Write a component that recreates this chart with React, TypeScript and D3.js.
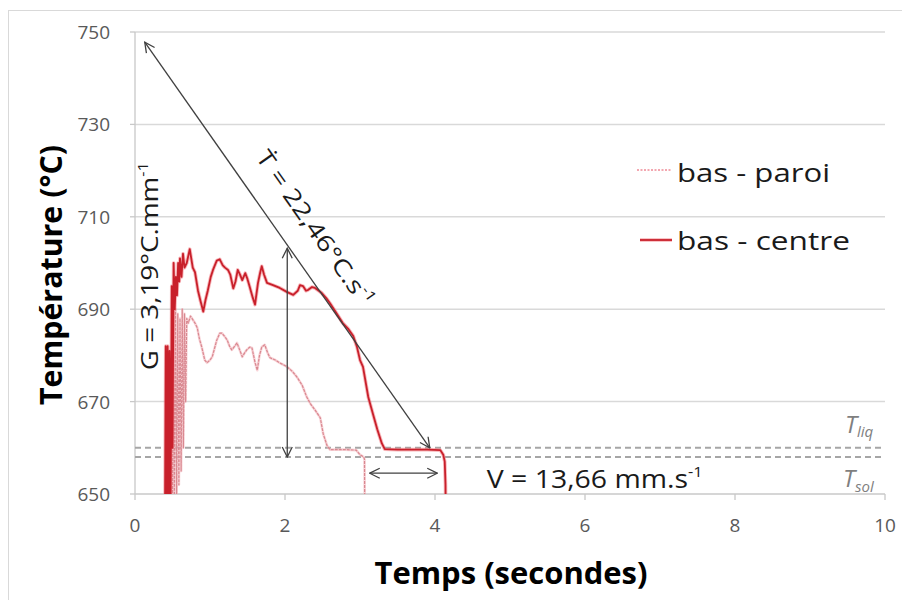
import React from 'react';
import * as d3 from 'd3';

// ---------- data ----------
const xTicks = [0, 2, 4, 6, 8, 10];
const yTicks = [650, 670, 690, 710, 730, 750];

const seriesNames = ['bas - paroi', 'bas - centre'];

const centreTime = [
  0.40, 0.41, 0.425, 0.435, 0.45, 0.46, 0.475, 0.49, 0.50, 0.515, 0.53, 0.545, 0.56, 0.575, 0.59, 0.60,
  0.62, 0.64, 0.66, 0.69, 0.73, 0.77, 0.80, 0.84, 0.87, 0.91, 0.94, 0.97, 1.01, 1.04, 1.09, 1.13,
  1.17, 1.20, 1.24, 1.27, 1.31, 1.34, 1.37, 1.40, 1.43, 1.47, 1.50, 1.53, 1.57, 1.60, 1.64, 1.67,
  1.69, 1.72, 1.76, 1.84, 1.93, 2.03, 2.11, 2.17, 2.20, 2.24, 2.28, 2.31, 2.36, 2.40, 2.45, 2.49,
  2.55, 2.60, 2.68, 2.77, 2.84, 2.91, 2.96, 3.00, 3.04, 3.11, 3.17, 3.23, 3.29, 3.33, 3.5, 3.7,
  3.9, 4.07, 4.11, 4.13, 4.14, 4.145,
];
const centreTemp = [
  645, 682, 645, 682, 645, 681, 648, 695, 660, 700, 690, 697, 693, 700, 696, 701,
  697, 702, 699, 700, 703, 699, 698, 694, 692, 689.5, 692, 694, 697, 698.5, 700.5, 700.8,
  699.5, 699, 698.5, 697.5, 694.5, 696, 698.5, 697.5, 696.3, 697.8, 696.5, 694.8, 692.5, 691, 695.7, 698,
  699.3, 697.5, 695.7, 695.2, 694.6, 693.7, 693.1, 694.0, 695.2, 695.0, 694.0, 694.2, 694.8, 694.6, 694, 693.5,
  692.4, 691.3, 689.3, 687.0, 685.8, 684.2, 681.8, 679, 677.5, 671, 667.5, 664, 661, 659.7, 659.6, 659.6,
  659.6, 659.5, 658.5, 657, 652, 640,
];

const paroiTime = [
  0.50, 0.51, 0.525, 0.54, 0.555, 0.57, 0.585, 0.60, 0.615, 0.63, 0.645, 0.66, 0.675, 0.69, 0.71, 0.74,
  0.76, 0.80, 0.83, 0.86, 0.89, 0.93, 0.96, 1.00, 1.03, 1.06, 1.09, 1.13, 1.16, 1.20, 1.23, 1.26,
  1.29, 1.33, 1.36, 1.40, 1.43, 1.46, 1.49, 1.53, 1.56, 1.60, 1.63, 1.66, 1.69, 1.73, 1.77, 1.80,
  1.87, 1.93, 2.03, 2.10, 2.16, 2.23, 2.29, 2.34, 2.40, 2.47, 2.51, 2.56, 2.60, 2.8, 2.95, 3.00,
  3.05, 3.06, 3.065,
];
const paroiTemp = [
  645, 688, 648, 690, 650, 689, 652, 688, 655, 690, 660, 689, 670, 688, 687, 688.5,
  688, 687, 686, 683.5, 681.8, 679, 678.4, 679, 679.7, 681.5, 683.3, 684.8, 684.8, 684, 683.3, 682,
  681.2, 682, 682.7, 681, 679.7, 680.5, 681.2, 681.8, 681.6, 678.5, 676.8, 680, 681.8, 682.3, 680.5, 679.5,
  679, 678.4, 677.5, 676.5, 675.3, 673.5, 671.0, 669.5, 668.2, 666.5, 663, 660.5, 659.6, 659.6, 659.5, 658.5,
  658, 657.5, 640,
];

const tLiq = 660;
const tSol = 658;

// annotations in data units
const rateArrow: [number, number][] = [[0.13, 747.8], [3.93, 660]];
const gradArrow: [number, number][] = [[2.03, 703.2], [2.03, 658]];
const speedArrow: [number, number][] = [[3.13, 654.5], [4.03, 654.5]];
const rateLabelPos: [number, number] = [1.6, 722.9];
const gradLabelPos: [number, number] = [0.307, 676.8];
const speedLabelPos: [number, number] = [4.69, 651.3];

const rateLabel = 'Ṫ = 22,46°C.s';
const gradLabel = 'G = 3,19°C.mm';
const speedLabel = 'V = 13,66 mm.s';
const supLabel = '-1';

const W = 902;
const H = 600;
const FONT = "'Open Sans', 'Noto Sans', sans-serif";

export default function App() {
  const x = d3.scaleLinear().domain([0, 10]).range([135, 885]);
  const y = d3.scaleLinear().domain([650, 750]).range([494, 32]);
  const line = d3
    .line<[number, number]>()
    .x((d) => x(d[0]))
    .y((d) => y(d[1]));

  const centre: [number, number][] = centreTime.map((t, i) => [t, centreTemp[i]]);
  const paroi: [number, number][] = paroiTime.map((t, i) => [t, paroiTemp[i]]);

  const [x0, x1] = x.range();
  const [yb, yt] = y.range();

  const rateAngle =
    (Math.atan2(y(rateArrow[1][1]) - y(rateArrow[0][1]), x(rateArrow[1][0]) - x(rateArrow[0][0])) * 180) /
    Math.PI;

  const arrow = (pts: [number, number][]) => (
    <path
      d={line(pts) || ''}
      fill="none"
      stroke="#404040"
      strokeWidth={1.3}
      markerStart="url(#ah)"
      markerEnd="url(#ah)"
    />
  );

  return (
    <svg
      width={W}
      height={H}
      style={{ position: 'absolute', left: 0, top: 0, display: 'block' }}
      fontFamily={FONT}
    >
      <defs>
        <clipPath id="plotClip">
          <rect x={x0} y={yt} width={x1 - x0} height={yb - yt} />
        </clipPath>
        <marker
          id="ah"
          viewBox="0 0 12 12"
          refX={11}
          refY={6}
          markerWidth={12}
          markerHeight={12}
          markerUnits="userSpaceOnUse"
          orient="auto-start-reverse"
        >
          <path d="M1,1 L11,6 L1,11" fill="none" stroke="#404040" strokeWidth={1.3} />
        </marker>
      </defs>
      <rect x={0} y={0} width={W} height={H} fill="#fff" />
      <rect x={8.5} y={10.5} width={W + 20} height={H + 20} fill="none" stroke="#d9d9d9" strokeWidth={1} />

      {/* gridlines */}
      {yTicks
        .filter((v) => v !== 650)
        .map((v) => (
          <line key={'g' + v} x1={x0} x2={x1} y1={y(v)} y2={y(v)} stroke="#d9d9d9" strokeWidth={1.5} />
        ))}
      {/* axes */}
      <line x1={x0} x2={x0} y1={yt} y2={yb} stroke="#c8c8c8" strokeWidth={1.3} />
      <line x1={x0} x2={x1} y1={yb} y2={yb} stroke="#c8c8c8" strokeWidth={1.5} />
      {yTicks.map((v) => (
        <line key={'yt' + v} x1={x0 - 5} x2={x0} y1={y(v)} y2={y(v)} stroke="#c8c8c8" strokeWidth={1.3} />
      ))}
      {xTicks.map((v) => (
        <line key={'xt' + v} x1={x(v)} x2={x(v)} y1={yb} y2={yb + 6} stroke="#c8c8c8" strokeWidth={1.3} />
      ))}
      {yTicks.map((v) => (
        <text key={'yl' + v} x={110} y={y(v) + 7} textAnchor="end" fontSize={19} fill="#595959">
          {v}
        </text>
      ))}
      {xTicks.map((v) => (
        <text key={'xl' + v} x={x(v)} y={532} textAnchor="middle" fontSize={19} fill="#595959">
          {v}
        </text>
      ))}

      {/* axis titles */}
      <text
        transform={`translate(62,275) rotate(-90)`}
        textAnchor="middle"
        fontSize={30}
        fontWeight="bold"
        fill="#000"
        textLength={260}
        lengthAdjust="spacingAndGlyphs"
      >
        Température (°C)
      </text>
      <text
        x={511}
        y={584}
        textAnchor="middle"
        fontSize={30}
        fontWeight="bold"
        fill="#000"
        textLength={273}
        lengthAdjust="spacingAndGlyphs"
      >
        Temps (secondes)
      </text>

      {/* liquidus / solidus */}
      <line x1={x0} x2={x1} y1={y(tLiq)} y2={y(tLiq)} stroke="#a6a6a6" strokeWidth={2} strokeDasharray="6,4" />
      <line x1={x0} x2={x1} y1={y(tSol)} y2={y(tSol)} stroke="#a6a6a6" strokeWidth={2} strokeDasharray="6,4" />
      <text x={845} y={y(tLiq) - 15} fontSize={24} fontStyle="italic" fill="#7f7f7f">
        T
        <tspan fontSize={15} dy={4}>
          liq
        </tspan>
      </text>
      <text x={843} y={y(tSol) + 30} fontSize={24} fontStyle="italic" fill="#7f7f7f">
        T
        <tspan fontSize={15} dy={5}>
          sol
        </tspan>
      </text>

      {/* series */}
      <g clipPath="url(#plotClip)">
        <path
          d={line(paroi) || ''}
          fill="none"
          stroke="#f3b8be"
          strokeWidth={2.6}
          strokeOpacity={0.6}
          strokeLinejoin="round"
        />
        <path
          d={line(paroi) || ''}
          fill="none"
          stroke="#d98890"
          strokeWidth={1.2}
          strokeDasharray="3,1"
          strokeLinejoin="round"
        />
        <path
          d={line(centre) || ''}
          fill="none"
          stroke="#f27a82"
          strokeWidth={3.6}
          strokeOpacity={0.55}
          strokeLinejoin="round"
        />
        <path d={line(centre) || ''} fill="none" stroke="#c8202b" strokeWidth={1.8} strokeLinejoin="round" />
      </g>

      {/* annotations */}
      {arrow(rateArrow)}
      {arrow(gradArrow)}
      {arrow(speedArrow)}

      <text
        transform={`translate(${x(rateLabelPos[0])},${y(rateLabelPos[1])}) rotate(${rateAngle})`}
        fontSize={23}
        fill="#1a1a1a"
        textLength={185}
        lengthAdjust="spacingAndGlyphs"
      >
        {rateLabel}
        <tspan fontSize={14} dy={-10}>
          {supLabel}
        </tspan>
      </text>
      <text
        transform={`translate(${x(gradLabelPos[0])},${y(gradLabelPos[1])}) rotate(-90)`}
        fontSize={24}
        fill="#1a1a1a"
        textLength={208}
        lengthAdjust="spacingAndGlyphs"
      >
        {gradLabel}
        <tspan fontSize={14} dy={-10}>
          {supLabel}
        </tspan>
      </text>
      <text
        x={x(speedLabelPos[0])}
        y={y(speedLabelPos[1])}
        fontSize={26}
        fill="#1a1a1a"
        textLength={216}
        lengthAdjust="spacingAndGlyphs"
      >
        {speedLabel}
        <tspan fontSize={15} dy={-11}>
          {supLabel}
        </tspan>
      </text>

      {/* legend */}
      <line x1={637} x2={672} y1={170} y2={170} stroke="#f08a96" strokeWidth={1.5} strokeDasharray="2,1.5" />
      <text x={677} y={182} fontSize={26} fill="#1a1a1a" textLength={153} lengthAdjust="spacingAndGlyphs">
        {seriesNames[0]}
      </text>
      <line x1={640} x2={672} y1={240} y2={240} stroke="#f27a82" strokeWidth={3.6} strokeOpacity={0.55} />
      <line x1={640} x2={672} y1={240} y2={240} stroke="#c8202b" strokeWidth={1.8} />
      <text x={677} y={250} fontSize={26} fill="#1a1a1a" textLength={173} lengthAdjust="spacingAndGlyphs">
        {seriesNames[1]}
      </text>
    </svg>
  );
}
